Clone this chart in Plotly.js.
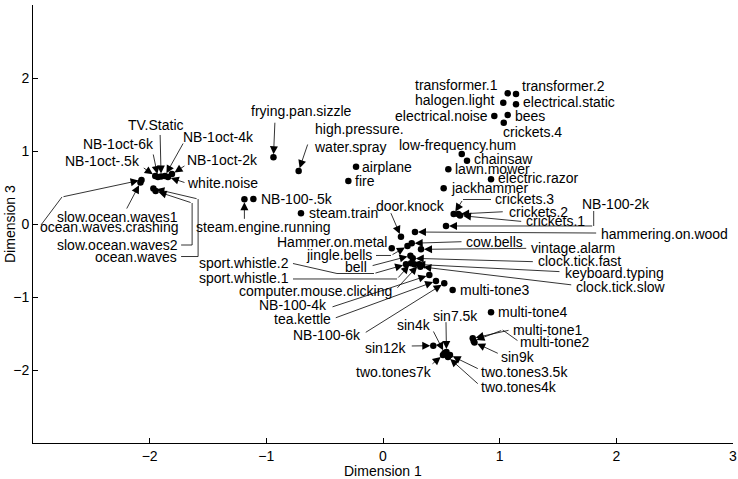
<!DOCTYPE html>
<html>
<head>
<meta charset="utf-8">
<script src="https://cdn.plot.ly/plotly-3.0.1.min.js"></script>
<style>html,body{margin:0;padding:0;background:#fff}#chart{width:738px;height:479px}</style>
</head>
<body>
<div id="chart"></div>
<script>
// sounds and their coordinates on dimensions 1 and 3
const sounds = [
  "TV.Static", "NB-1oct-6k", "NB-1oct-4k", "NB-1oct-.5k", "NB-1oct-2k", "white.noise",
  "slow.ocean.waves1", "ocean.waves.crashing", "slow.ocean.waves2", "ocean.waves",
  "frying.pan.sizzle", "high.pressure.water.spray", "airplane", "fire", "NB-100-.5k",
  "steam.engine.running", "steam.train", "transformer.1", "transformer.2", "halogen.light",
  "electrical.static", "electrical.noise", "bees", "crickets.4", "low-frequency.hum",
  "chainsaw", "lawn.mower", "electric.razor", "jackhammer", "crickets.3", "crickets.2",
  "crickets.1", "NB-100-2k", "hammering.on.wood", "door.knock", "cow.bells", "vintage.alarm",
  "clock.tick.fast", "keyboard.typing", "clock.tick.slow", "Hammer.on.metal", "jingle.bells",
  "bell", "sport.whistle.2", "sport.whistle.1", "computer.mouse.clicking", "NB-100-4k",
  "tea.kettle", "NB-100-6k", "multi-tone3", "multi-tone4", "multi-tone1", "multi-tone2",
  "sin9k", "sin7.5k", "sin4k", "sin12k", "two.tones7k", "two.tones3.5k", "two.tones4k"
];
const dim1 = [
  -1.902, -1.929, -1.869, -1.952, -1.809, -1.843,
  -2.079, -2.07, -1.949, -1.968,
  -0.939, -0.723, -0.231, -0.297, -1.111,
  -1.188, -0.703, 1.069, 1.14, 1.031,
  1.14, 0.954, 1.069, 1.035, 0.675,
  0.72, 0.56, 0.926, 0.52, 0.606, 0.645,
  0.66, 0.54, 0.274, 0.154, 0.246, 0.326,
  0.255, 0.268, 0.32, 0.075, 0.21,
  0.235, 0.197, 0.24, 0.311, 0.397,
  0.454, 0.525, 0.597, 0.926, 0.769, 0.777,
  0.784, 0.544, 0.527, 0.431, 0.514, 0.574, 0.557
];
const dim3 = [
  0.651, 0.644, 0.658, 0.658, 0.685, 0.644,
  0.568, 0.603, 0.452, 0.486,
  0.915, 0.726, 0.785, 0.589, 0.342,
  0.338, 0.147, 1.79, 1.781, 1.662,
  1.64, 1.479, 1.493, 1.388, 0.959,
  0.868, 0.749, 0.612, 0.489, 0.137, 0.137,
  0.116, -0.027, -0.11, -0.174, -0.264, -0.347,
  -0.47, -0.552, -0.585, -0.333, -0.301,
  -0.434, -0.552, -0.538, -0.552, -0.699,
  -0.781, -0.812, -0.904, -1.21, -1.566, -1.603,
  -1.623, -1.753, -1.767, -1.667, -1.795, -1.795, -1.822
];
const ticks = [-2, -1, 0, 1, 2, 3];

// label placement: screen pixel offsets from the point (dx right, dy down)
// a = text anchor side, t = text anchor, tail = arrow start, via = leader line before the arrow
const place = {
  "TV.Static": {a: "center", t: [-5, -51.5], tail: [-1, -43]},
  "NB-1oct-6k": {a: "center", t: [-39, -33], tail: [-5, -24]},
  "NB-1oct-4k": {a: "center", t: [54, -39], tail: [19, -34]},
  "NB-1oct-.5k": {a: "center", t: [-53, -15], tail: [-13, -9]},
  "NB-1oct-2k": {a: "center", t: [51, -14], tail: [14, -9]},
  "white.noise": {a: "center", t: [55, 6], tail: [18, 6]},
  "slow.ocean.waves1": {a: "center", t: [-23, 34], tail: [-14.5, 27.5]},
  "ocean.waves.crashing": {a: "center", t: [-32, 47], via: [[-100.5, 45]], tail: [-79.5, 17]},
  "slow.ocean.waves2": {a: "right", t: [24, 54], via: [[25.5, 54], [36.5, 54]], tail: [36.5, 12]},
  "ocean.waves": {a: "right", t: [26, 68], via: [[27.7, 68], [44.7, 68]], tail: [44.7, 10.5]},
  "frying.pan.sizzle": {a: "center", t: [28, -46], tail: [1.5, -36]},
  "high.pressure.water.spray": {a: "left", t: [13, -33], tail: [9.5, -28], text: "high.pressure.<br>water.spray"},
  "airplane": {a: "left", t: [4, 0]},
  "fire": {a: "left", t: [5, 0]},
  "NB-100-.5k": {a: "left", t: [6, 0]},
  "steam.engine.running": {a: "center", t: [19, 28], tail: [0, 21]},
  "steam.train": {a: "left", t: [6, 0]},
  "transformer.1": {a: "right", t: [-8, -8]},
  "transformer.2": {a: "left", t: [4, -8]},
  "halogen.light": {a: "right", t: [-6, -3]},
  "electrical.static": {a: "left", t: [5, -2]},
  "electrical.noise": {a: "right", t: [-4, 0]},
  "bees": {a: "left", t: [5, 1]},
  "crickets.4": {a: "left", t: [-3, 9]},
  "low-frequency.hum": {a: "center", t: [-4, -9]},
  "chainsaw": {a: "left", t: [5, -1.5]},
  "lawn.mower": {a: "left", t: [5, 0]},
  "electric.razor": {a: "left", t: [5, -1]},
  "jackhammer": {a: "left", t: [5, 0]},
  "crickets.3": {a: "left", t: [39, -15.5], via: [[37.3, -14.5]], tail: [9.3, -14.5]},
  "crickets.2": {a: "left", t: [49, -2.5], tail: [46, -2.3]},
  "crickets.1": {a: "left", t: [64, 5], tail: [62.7, 6]},
  "NB-100-2k": {a: "center", t: [170, -22], via: [[147.7, -15]], tail: [147.7, 0]},
  "hammering.on.wood": {a: "left", t: [184, 2], tail: [182.7, 1]},
  "door.knock": {a: "center", t: [9.5, -30.7], tail: [-10.7, -25]},
  "cow.bells": {a: "left", t: [52.6, -1.6], tail: [51.3, -1.6]},
  "vintage.alarm": {a: "left", t: [108.3, -1], tail: [106.7, -1]},
  "clock.tick.fast": {a: "left", t: [123.3, 2.4], tail: [121.6, 3.4]},
  "keyboard.typing": {a: "left", t: [148.4, 8.4], tail: [146.7, 7.4]},
  "clock.tick.slow": {a: "left", t: [154, 20], tail: [152.4, 18.3]},
  "Hammer.on.metal": {a: "right", t: [-2.4, -6.6]},
  "jingle.bells": {a: "right", t: [-33.2, 9], via: [[-31.5, 9.5]], tail: [-16.5, 9.5]},
  "bell": {a: "right", t: [-41, 11.6], tail: [-39.3, 10.3]},
  "sport.whistle.2": {a: "right", t: [-115, -1.6], via: [[-113, -0.8], [-69, 9.2]], tail: [-32, 9.2]},
  "sport.whistle.1": {a: "right", t: [-120, 15], via: [[-118, 15.7]], tail: [-14, 15.7]},
  "computer.mouse.clicking": {a: "right", t: [-25, 26.4], tail: [-23.3, 25]},
  "NB-100-4k": {a: "right", t: [-100, 30], tail: [-98.3, 32.3]},
  "tea.kettle": {a: "right", t: [-103.3, 38], tail: [-101.7, 37.3]},
  "NB-100-6k": {a: "right", t: [-81.6, 51.7], tail: [-80, 50]},
  "multi-tone3": {a: "left", t: [5, 0]},
  "multi-tone4": {a: "left", t: [5, -0.6]},
  "multi-tone1": {a: "left", t: [38.3, -8.3], tail: [37.3, -8.3]},
  "multi-tone2": {a: "left", t: [44.6, 0.7], via: [[43.8, -0.5]], tail: [29, -11]},
  "sin9k": {a: "left", t: [24.8, 14.2], tail: [24.8, 11.5]},
  "sin7.5k": {a: "center", t: [9.5, -36], tail: [-0.5, -31.3]},
  "sin4k": {a: "center", t: [-30, -28], tail: [-11.8, -23]},
  "sin12k": {a: "right", t: [-25.6, 2.6], tail: [-23, 0.3]},
  "two.tones7k": {a: "center", t: [-48.7, 16.7], tail: [-12, 10]},
  "two.tones3.5k": {a: "left", t: [29.3, 16.7], tail: [29.3, 14.3]},
  "two.tones4k": {a: "left", t: [31.3, 29.7], tail: [31.3, 28]}
};

const W = 738, H = 479;
const margin = {l: 33, r: 5, t: 5, b: 36, pad: 0};
const xr = [-3, 3], yr = [-3, 3];
const sx = (W - margin.l - margin.r) / (xr[1] - xr[0]);
const sy = (H - margin.t - margin.b) / (yr[1] - yr[0]);
const font = {family: "'Liberation Sans', Arial, sans-serif", size: 14, color: "#000"};

const annotations = [];
const shapes = [];
sounds.forEach((name, i) => {
  const p = place[name];
  const x = dim1[i], y = dim3[i];
  const at = ([dx, dy]) => [x + dx / sx, y - dy / sy];
  const [tx, ty] = at(p.t);
  annotations.push({
    x: tx, y: ty, text: p.text || name, showarrow: false,
    xanchor: p.a, yanchor: "middle", align: "left", font
  });
  if (p.tail) {
    const [ax, ay] = at(p.tail);
    annotations.push({
      x, y, ax, ay, axref: "x", ayref: "y", text: "", showarrow: true,
      arrowhead: 2, arrowsize: 2, arrowwidth: 0.8, arrowcolor: "#000", standoff: 3
    });
    if (p.via) {
      const pts = p.via.concat([p.tail]).map(at);
      const path = pts.map(([px, py], k) => (k ? "L" : "M") + px + "," + py).join(" ");
      shapes.push({type: "path", path, xref: "x", yref: "y", line: {color: "#000", width: 0.8}});
    }
  }
});

annotations.push(
  {xref: "paper", yref: "paper", x: 0.5, y: -28 / (H - margin.t - margin.b), text: "Dimension 1",
   showarrow: false, xanchor: "center", yanchor: "middle", font},
  {xref: "paper", yref: "paper", x: -23 / (W - margin.l - margin.r), y: 0.5, text: "Dimension 3",
   showarrow: false, xanchor: "center", yanchor: "middle", textangle: -90, font}
);

const axis = {
  range: xr, tickvals: ticks, ticks: "inside", ticklen: 5, tickcolor: "#000",
  showline: true, linecolor: "#000", linewidth: 1, showgrid: false, zeroline: false,
  tickfont: font, mirror: false, fixedrange: true
};

Plotly.newPlot("chart", [{
  x: dim1, y: dim3, text: sounds, type: "scatter", mode: "markers",
  marker: {color: "#000", size: 6.5}, hoverinfo: "text", cliponaxis: false
}], {
  width: W, height: H, margin, showlegend: false,
  paper_bgcolor: "#fff", plot_bgcolor: "#fff", font,
  xaxis: Object.assign({}, axis, {range: xr}),
  yaxis: Object.assign({}, axis, {range: yr}),
  annotations, shapes
}, {staticPlot: true});
</script>
</body>
</html>
